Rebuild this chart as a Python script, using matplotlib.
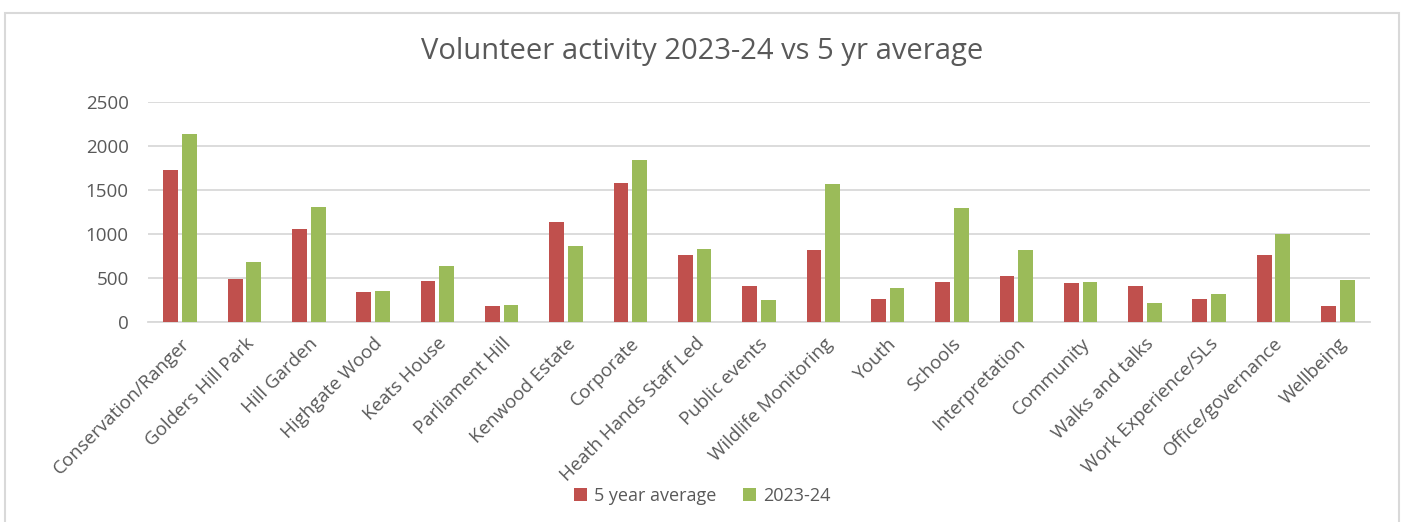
import numpy as np
import matplotlib.pyplot as plt
from matplotlib.patches import Rectangle

plt.rcParams['font.family'] = ['Open Sans', 'DejaVu Sans']

categories = ['Conservation/Ranger', 'Golders Hill Park', 'Hill Garden', 'Highgate Wood',
              'Keats House', 'Parliament Hill', 'Kenwood Estate', 'Corporate',
              'Heath Hands Staff Led', 'Public events', 'Wildlife Monitoring', 'Youth',
              'Schools', 'Interpretation', 'Community', 'Walks and talks',
              'Work Experience/SLs', 'Office/governance', 'Wellbeing']
five_year_avg = [1731, 485, 1058, 342, 470, 185, 1134, 1575, 758, 405,
                 820, 262, 455, 523, 443, 405, 262, 758, 185]
year_2023_24 = [2135, 678, 1302, 352, 640, 196, 864, 1838, 834, 250,
                1572, 390, 1290, 820, 455, 212, 318, 1003, 482]

RED = '#C0504D'
GREEN = '#9BBB59'
TEXT = '#595959'

fig = plt.figure(figsize=(14.05, 5.22), dpi=100)
ax = fig.add_axes([148 / 1405, 1 - 322 / 522, (1370 - 148) / 1405, 220 / 522])

# chart area border
fig.patches.append(Rectangle((5 / 1405, -0.05), 1394 / 1405, 1.05 - 13 / 522,
                             transform=fig.transFigure, fill=False,
                             edgecolor='#D9D9D9', linewidth=1.5))

x = np.arange(len(categories))
w = 0.23
ax.bar(x - 0.145, five_year_avg, w, color=RED, label='5 year average', zorder=3)
ax.bar(x + 0.145, year_2023_24, w, color=GREEN, label='2023-24', zorder=3)

ax.set_xlim(-0.5, len(categories) - 0.5)
ax.set_ylim(0, 2500)
ax.set_yticks(range(0, 2501, 500))
ax.yaxis.grid(True, color='#D9D9D9', linewidth=1.3, zorder=0)
ax.set_axisbelow(True)
for s in ['top', 'right', 'left']:
    ax.spines[s].set_visible(False)
ax.spines['bottom'].set_color('#D9D9D9')
ax.spines['bottom'].set_linewidth(1.3)
ax.tick_params(axis='both', length=0, colors=TEXT, labelsize=13.5)
ax.tick_params(axis='y', pad=14)
ax.tick_params(axis='x', pad=9)
ax.set_xticks(x)
ax.set_xticklabels(categories, rotation=45, ha='right', rotation_mode='anchor')

fig.text(0.5, 1 - 52 / 522, 'Volunteer activity 2023-24 vs 5 yr average',
         ha='center', va='center', fontsize=21, color=TEXT)

leg = fig.legend(loc='center', bbox_to_anchor=(0.5, 1 - 496 / 522), ncol=2,
                 frameon=False, fontsize=13, handlelength=0.7, handleheight=0.7,
                 handletextpad=0.4, columnspacing=1.5)
for t in leg.get_texts():
    t.set_color(TEXT)

fig.savefig('out.png', dpi=100)
plt.close(fig)
